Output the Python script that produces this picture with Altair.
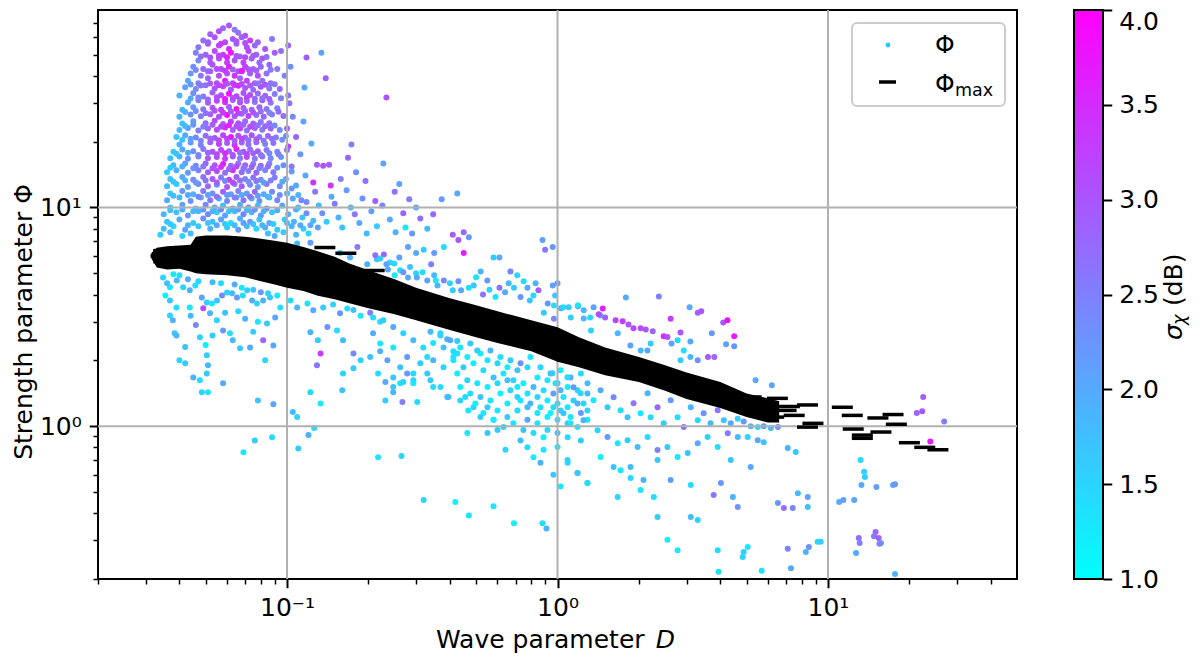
import altair as alt
import pandas as pd

FONT = "DejaVu Sans"

# ---------------- scatter data (D, Phi, sigma_chi), read row by row ----------------
# dense cluster at small D
CL_D = [
    [0.058, 0.061, 0.064],
    [0.052, 0.056, 0.066, 0.070],
    [0.049, 0.054, 0.059, 0.063, 0.068, 0.073, 0.078, 0.088],
    [0.047, 0.051, 0.056, 0.061, 0.065, 0.071, 0.076, 0.083, 0.095],
    [0.046, 0.050, 0.054, 0.058, 0.062, 0.067, 0.072, 0.077, 0.081, 0.090],
    [0.047, 0.052, 0.056, 0.060, 0.064, 0.069, 0.074, 0.079, 0.086],
    [0.045, 0.049, 0.053, 0.057, 0.061, 0.066, 0.070, 0.075, 0.080, 0.092],
    [0.044, 0.048, 0.052, 0.056, 0.060, 0.064, 0.068, 0.073, 0.078, 0.084, 0.098],
    [0.043, 0.047, 0.051, 0.055, 0.059, 0.063, 0.067, 0.071, 0.076, 0.081, 0.087],
    [0.042, 0.046, 0.050, 0.054, 0.058, 0.062, 0.066, 0.070, 0.075, 0.080, 0.086, 0.094],
    [0.040, 0.045, 0.049, 0.053, 0.057, 0.061, 0.065, 0.069, 0.073, 0.078, 0.083, 0.090, 0.101],
    [0.043, 0.047, 0.051, 0.055, 0.059, 0.063, 0.067, 0.071, 0.076, 0.081, 0.087],
    [0.041, 0.045, 0.049, 0.053, 0.057, 0.061, 0.065, 0.069, 0.074, 0.079, 0.084, 0.092],
    [0.040, 0.044, 0.048, 0.052, 0.056, 0.060, 0.064, 0.068, 0.072, 0.077, 0.082, 0.088, 0.097],
    [0.041, 0.045, 0.050, 0.054, 0.058, 0.062, 0.066, 0.070, 0.075, 0.080, 0.086],
    [0.040, 0.043, 0.047, 0.051, 0.055, 0.059, 0.063, 0.067, 0.071, 0.076, 0.081, 0.087, 0.094],
    [0.039, 0.042, 0.046, 0.050, 0.054, 0.058, 0.062, 0.066, 0.070, 0.074, 0.079, 0.085, 0.091, 0.099],
    [0.040, 0.044, 0.048, 0.052, 0.056, 0.060, 0.064, 0.068, 0.072, 0.077, 0.083, 0.089],
    [0.038, 0.041, 0.045, 0.049, 0.053, 0.057, 0.061, 0.065, 0.069, 0.073, 0.078, 0.084, 0.092, 0.100],
    [0.037, 0.040, 0.043, 0.047, 0.051, 0.055, 0.059, 0.063, 0.067, 0.071, 0.076, 0.081, 0.087, 0.095],
    [0.038, 0.042, 0.046, 0.050, 0.054, 0.058, 0.062, 0.066, 0.070, 0.075, 0.080, 0.086, 0.097],
    [0.036, 0.039, 0.043, 0.047, 0.051, 0.055, 0.059, 0.063, 0.068, 0.072, 0.077, 0.083, 0.089, 0.104],
    [0.037, 0.041, 0.045, 0.049, 0.053, 0.057, 0.061, 0.065, 0.070, 0.075, 0.080, 0.090, 0.099],
    [0.036, 0.039, 0.043, 0.047, 0.051, 0.055, 0.060, 0.064, 0.068, 0.073, 0.078, 0.084, 0.094, 0.108],
    [0.037, 0.041, 0.045, 0.049, 0.053, 0.058, 0.062, 0.066, 0.071, 0.076, 0.082, 0.088, 0.100],
    [0.036, 0.040, 0.044, 0.048, 0.052, 0.056, 0.060, 0.065, 0.069, 0.074, 0.079, 0.086, 0.092, 0.105, 0.113],
    [0.037, 0.041, 0.046, 0.050, 0.054, 0.058, 0.063, 0.067, 0.072, 0.078, 0.084, 0.096, 0.110],
    [0.035, 0.039, 0.043, 0.047, 0.051, 0.055, 0.059, 0.064, 0.069, 0.074, 0.080, 0.088, 0.101, 0.118],
    [0.036, 0.040, 0.045, 0.049, 0.053, 0.057, 0.062, 0.067, 0.073, 0.079, 0.086, 0.098, 0.106, 0.125],
    [0.035, 0.038, 0.042, 0.047, 0.052, 0.060, 0.066, 0.071, 0.077, 0.083, 0.092, 0.104, 0.115, 0.130],
    [0.034, 0.037, 0.041, 0.044, 0.085, 0.090, 0.097, 0.108, 0.120],
]
CL_P = [
    [66, 68, 65],
    [62, 64, 63, 61],
    [58, 60, 57, 59, 60, 58, 57, 59],
    [54, 56, 55, 53, 56, 54, 55, 53, 52],
    [51, 50, 52, 50, 51, 49, 52, 50, 48, 51],
    [47, 46, 48, 46, 47, 46, 48, 46, 45],
    [44, 43, 45, 43, 44, 42, 44, 43, 44, 43],
    [41, 40, 42, 40, 41, 40, 42, 41, 40, 41, 40],
    [38, 37, 39, 37, 38, 37, 39, 38, 37, 38, 37],
    [35.5, 34.8, 36.2, 35, 35.8, 34.6, 36, 35.2, 34.5, 35.7, 35, 34.8],
    [32.5, 33.3, 32.2, 33.6, 32.6, 33.1, 32.3, 33.4, 32.7, 33.2, 32.4, 33, 32.5],
    [30.2, 30.9, 30.1, 30.8, 30.3, 31, 30.2, 30.7, 30.4, 30.9, 30.1],
    [28, 28.7, 28.1, 28.6, 28, 28.8, 28.2, 28.5, 28, 28.7, 28.2, 28.4],
    [26, 26.6, 26.1, 26.7, 26, 26.5, 26.1, 26.8, 26.2, 26.5, 26, 26.6, 26.2],
    [24.2, 24.8, 24.3, 24.9, 24.1, 24.7, 24.3, 24.8, 24.2, 24.6, 24.3],
    [22.6, 23.1, 22.5, 23, 22.7, 23.2, 22.6, 23, 22.5, 23.1, 22.7, 23, 22.6],
    [21, 21.4, 20.9, 21.3, 20.8, 21.4, 21, 21.3, 20.9, 21.4, 21, 21.2, 20.9, 21.2],
    [19.4, 19.8, 19.3, 19.9, 19.5, 19.7, 19.3, 19.8, 19.4, 19.9, 19.5, 19.7],
    [18, 18.4, 18.1, 18.5, 18, 18.3, 18.1, 18.5, 18, 18.4, 18.1, 18.3, 18, 18.3],
    [16.8, 17.1, 16.7, 17.1, 16.8, 17, 16.7, 17.1, 16.8, 17, 16.7, 17.1, 16.8, 17],
    [15.6, 15.9, 15.5, 15.9, 15.6, 15.8, 15.5, 15.9, 15.6, 15.8, 15.5, 15.9, 15.6],
    [14.5, 14.8, 14.4, 14.8, 14.5, 14.7, 14.4, 14.8, 14.5, 14.7, 14.4, 14.8, 14.5, 14.6],
    [13.5, 13.8, 13.4, 13.8, 13.5, 13.7, 13.4, 13.8, 13.5, 13.7, 13.4, 13.7, 13.5],
    [12.5, 12.8, 12.4, 12.8, 12.5, 12.7, 12.4, 12.8, 12.5, 12.7, 12.4, 12.8, 12.5, 12.6],
    [11.6, 11.9, 11.5, 11.9, 11.6, 11.8, 11.5, 11.9, 11.6, 11.8, 11.5, 11.8, 11.6],
    [10.8, 11.1, 10.7, 11.1, 10.8, 11, 10.7, 11.1, 10.8, 11, 10.7, 11.1, 10.8, 11, 10.8],
    [10, 10.3, 9.9, 10.3, 10, 10.2, 9.9, 10.3, 10, 10.2, 9.9, 10.2, 10],
    [9.3, 9.5, 9.2, 9.6, 9.3, 9.5, 9.2, 9.6, 9.3, 9.5, 9.2, 9.5, 9.3, 9.4],
    [8.6, 8.8, 8.5, 8.9, 8.6, 8.8, 8.5, 8.9, 8.6, 8.8, 8.5, 8.8, 8.6, 8.7],
    [8.0, 8.2, 7.9, 8.2, 8.0, 8.1, 7.9, 8.2, 8.0, 8.1, 7.9, 8.2, 8.0, 8.1],
    [7.5, 7.7, 7.4, 7.6, 7.6, 7.4, 7.7, 7.5, 7.6],
]
CL_S = [
    [2.8, 3.0, 2.6],
    [2.9, 3.1, 2.7, 3.0],
    [2.7, 3.0, 3.2, 3.0, 2.9, 3.3, 2.8, 2.6],
    [2.6, 3.0, 3.2, 3.5, 2.9, 3.1, 2.8, 3.0, 2.7],
    [2.5, 2.9, 3.1, 3.3, 3.8, 2.9, 3.2, 2.8, 3.0, 2.9],
    [2.4, 2.9, 3.1, 3.3, 3.0, 3.2, 2.9, 2.7, 2.8],
    [2.3, 2.8, 3.0, 3.2, 3.6, 3.0, 3.3, 2.9, 2.8, 2.6],
    [2.2, 2.6, 2.9, 3.1, 3.0, 3.4, 3.1, 2.9, 3.1, 2.7, 2.5],
    [2.0, 2.5, 2.8, 3.1, 3.7, 3.1, 2.9, 3.3, 2.9, 2.7, 2.7],
    [2.1, 2.4, 2.7, 3.0, 3.3, 3.0, 3.6, 3.0, 2.8, 3.0, 2.6, 2.8],
    [1.9, 2.3, 2.6, 2.9, 3.1, 3.8, 3.2, 3.0, 3.1, 2.7, 2.9, 2.5, 2.6],
    [2.0, 2.5, 2.9, 3.2, 3.4, 2.9, 3.1, 2.9, 2.6, 3.0, 2.6],
    [1.8, 2.2, 2.6, 3.0, 3.3, 3.0, 3.7, 2.9, 2.8, 2.9, 2.6, 2.4],
    [1.9, 2.3, 2.5, 2.9, 3.1, 3.8, 3.0, 2.9, 3.2, 2.7, 2.8, 2.5, 2.7],
    [1.7, 2.1, 2.7, 3.1, 2.9, 3.3, 3.0, 2.8, 2.9, 2.6, 2.7],
    [1.8, 2.2, 2.5, 2.8, 3.1, 3.5, 2.9, 3.2, 2.7, 2.9, 2.6, 2.8, 2.4],
    [1.7, 2.0, 2.4, 2.7, 3.0, 3.2, 3.8, 3.0, 2.8, 3.0, 2.7, 2.8, 2.5, 2.3],
    [1.9, 2.2, 2.5, 2.9, 3.2, 2.9, 3.4, 2.9, 2.7, 2.8, 2.5, 2.7],
    [1.6, 2.0, 2.3, 2.6, 3.0, 3.2, 2.9, 3.6, 3.0, 2.7, 2.9, 2.6, 2.4, 2.7],
    [1.7, 1.9, 2.3, 2.5, 2.9, 3.1, 3.3, 2.9, 2.6, 3.1, 2.6, 2.7, 2.4, 2.2],
    [1.8, 2.1, 2.4, 2.8, 3.0, 3.7, 2.9, 2.7, 2.9, 2.6, 2.8, 2.5, 2.3],
    [1.6, 1.9, 2.2, 2.5, 2.9, 3.2, 2.7, 3.4, 2.8, 2.5, 2.8, 2.4, 2.6, 2.2],
    [1.7, 2.0, 2.4, 2.7, 3.0, 2.6, 3.3, 2.9, 2.5, 2.7, 2.3, 2.5, 2.1],
    [1.8, 1.6, 2.1, 2.4, 2.8, 2.3, 3.0, 2.6, 2.9, 2.4, 2.2, 2.6, 2.3, 2.0],
    [1.7, 2.2, 1.9, 2.6, 2.3, 2.9, 2.1, 2.5, 2.2, 2.8, 2.0, 2.4, 1.9],
    [2.0, 1.8, 2.3, 2.1, 2.6, 1.9, 2.4, 2.2, 2.7, 2.0, 2.3, 1.8, 2.5, 2.1, 2.4],
    [1.6, 2.1, 1.8, 2.4, 2.0, 1.7, 2.3, 1.9, 2.2, 1.8, 2.4, 2.0, 1.7],
    [1.9, 1.7, 2.2, 1.9, 2.4, 1.6, 2.1, 1.8, 2.5, 1.9, 2.2, 1.7, 2.0, 2.3],
    [1.7, 2.0, 1.6, 2.3, 1.8, 2.1, 1.5, 1.9, 2.2, 1.7, 2.0, 1.6, 1.9, 1.8],
    [1.8, 1.5, 2.1, 1.7, 1.9, 1.6, 2.2, 1.8, 1.5, 2.0, 1.7, 1.9, 1.6, 2.1],
    [1.6, 1.9, 1.5, 1.8, 1.7, 2.0, 1.6, 1.9, 1.5],
]

# in-between points of the same cluster
CM_D = [
    [0.051, 0.057, 0.065, 0.070],
    [0.048, 0.052, 0.056, 0.060, 0.065, 0.070, 0.075, 0.084],
    [0.046, 0.051, 0.055, 0.059, 0.063, 0.068, 0.072, 0.077, 0.087],
    [0.044, 0.048, 0.052, 0.056, 0.060, 0.064, 0.068, 0.073, 0.078, 0.083, 0.090],
    [0.044, 0.047, 0.051, 0.055, 0.059, 0.063, 0.067, 0.071, 0.076, 0.081, 0.086, 0.095],
    [0.042, 0.046, 0.050, 0.054, 0.058, 0.062, 0.066, 0.070, 0.075, 0.080, 0.086, 0.093],
    [0.042, 0.045, 0.049, 0.053, 0.057, 0.061, 0.065, 0.069, 0.073, 0.078, 0.083, 0.090],
    [0.041, 0.044, 0.048, 0.052, 0.056, 0.060, 0.064, 0.068, 0.072, 0.077, 0.082, 0.088, 0.096],
    [0.039, 0.043, 0.047, 0.051, 0.055, 0.059, 0.063, 0.067, 0.071, 0.075, 0.080, 0.086, 0.093],
    [0.037, 0.041, 0.045, 0.049, 0.053, 0.057, 0.061, 0.065, 0.069, 0.074, 0.079, 0.085, 0.092],
    [0.038, 0.042, 0.046, 0.050, 0.055, 0.059, 0.063, 0.067, 0.072, 0.077, 0.082, 0.087, 0.096],
    [0.038, 0.043, 0.047, 0.051, 0.055, 0.060, 0.064, 0.068, 0.073, 0.078, 0.085, 0.094],
    [0.037, 0.041, 0.045, 0.049, 0.053, 0.057, 0.061, 0.066, 0.071, 0.076, 0.082, 0.092],
    [0.037, 0.043, 0.051, 0.055, 0.059, 0.064, 0.069, 0.075, 0.081, 0.089, 0.100, 0.112],
]
CM_P = [
    [57, 56, 57.5, 56.5],
    [49, 48.5, 49.5, 48.7, 49.3, 48.6, 49.4, 48.8],
    [42.5, 42, 43, 42.2, 42.8, 42.1, 42.9, 42.3, 42.6],
    [36.5, 36.1, 36.9, 36.2, 36.8, 36.3, 36.7, 36.1, 36.9, 36.4, 36.6],
    [31.5, 31.8, 31.2, 31.9, 31.3, 31.7, 31.2, 31.8, 31.4, 31.6, 31.3, 31.6],
    [27.3, 27.6, 27.0, 27.7, 27.1, 27.5, 27.0, 27.6, 27.2, 27.5, 27.1, 27.4],
    [23.6, 23.9, 23.4, 23.9, 23.4, 23.8, 23.5, 23.9, 23.4, 23.8, 23.5, 23.7],
    [20.4, 20.6, 20.2, 20.7, 20.3, 20.6, 20.2, 20.6, 20.3, 20.5, 20.2, 20.6, 20.4],
    [17.6, 17.8, 17.4, 17.8, 17.5, 17.7, 17.4, 17.8, 17.5, 17.7, 17.4, 17.7, 17.5],
    [15.2, 15.4, 15.1, 15.4, 15.1, 15.3, 15.0, 15.4, 15.1, 15.3, 15.1, 15.4, 15.2],
    [13.1, 13.3, 13.0, 13.3, 13.0, 13.2, 13.0, 13.3, 13.1, 13.2, 13.0, 13.3, 13.1],
    [11.3, 11.4, 11.2, 11.4, 11.2, 11.4, 11.1, 11.4, 11.2, 11.3, 11.2, 11.4],
    [9.7, 9.8, 9.6, 9.8, 9.6, 9.8, 9.6, 9.8, 9.7, 9.8, 9.6, 9.7],
    [8.4, 8.3, 8.5, 8.3, 8.4, 8.3, 8.5, 8.4, 8.3, 8.4, 8.5, 8.3],
]
CM_S = [
    [2.9, 3.3, 3.0, 3.1],
    [2.7, 3.0, 3.2, 3.6, 3.0, 3.2, 2.9, 2.7],
    [2.4, 2.8, 3.1, 3.3, 2.9, 3.8, 3.0, 2.9, 2.6],
    [2.2, 2.6, 2.9, 3.2, 3.0, 3.4, 3.1, 2.9, 2.7, 3.0, 2.6],
    [2.0, 2.4, 2.8, 3.1, 3.7, 3.1, 2.9, 3.2, 2.8, 2.7, 2.9, 2.5],
    [1.9, 2.3, 2.7, 3.0, 3.3, 2.9, 3.2, 2.8, 3.0, 2.7, 2.5, 2.8],
    [1.8, 2.2, 2.5, 2.9, 3.2, 3.6, 3.0, 2.8, 3.1, 2.7, 2.8, 2.4],
    [1.7, 2.1, 2.4, 2.8, 3.1, 3.3, 2.9, 3.2, 2.7, 2.9, 2.6, 2.7, 2.3],
    [1.7, 2.0, 2.4, 2.8, 3.1, 3.5, 3.0, 2.7, 3.2, 2.9, 2.6, 2.4, 2.5],
    [1.6, 1.9, 2.3, 2.6, 3.0, 3.4, 2.8, 3.1, 2.6, 2.9, 2.5, 2.7, 2.3],
    [1.7, 1.9, 2.2, 2.6, 2.9, 2.4, 3.1, 2.7, 2.3, 2.6, 2.2, 2.5, 2.0],
    [1.8, 2.0, 2.4, 2.1, 2.7, 2.2, 2.5, 2.0, 2.6, 2.2, 1.9, 2.3],
    [1.7, 2.0, 1.8, 2.2, 1.9, 2.4, 1.7, 2.1, 1.8, 2.3, 1.9, 2.0],
    [1.6, 1.9, 1.7, 2.0, 1.6, 1.8, 2.1, 1.7, 1.9, 1.6, 1.8, 2.0],
]

# points to the right of the cluster
RB_D = [
    [0.118, 0.134, 0.139, 0.233, 0.116, 0.115, 0.123, 0.173, 0.168, 0.227, 0.212, 0.283],
    [0.373, 0.426, 0.269, 0.311, 0.347, 0.129, 0.136, 0.143, 0.125, 0.101, 0.103],
    [0.104, 0.110, 0.118, 0.108, 0.114, 0.122, 0.127, 0.131, 0.135, 0.140, 0.146, 0.150],
    [0.155, 0.160, 0.166, 0.172, 0.178, 0.185, 0.190, 0.197, 0.205, 0.215, 0.225, 0.240],
    [0.252, 0.195, 0.158, 0.145, 0.250, 0.260, 0.180, 0.300, 0.330, 0.290],
    [0.102, 0.105, 0.108, 0.112, 0.104, 0.117, 0.101, 0.100],
]
RB_P = [
    [48.5, 51, 39, 31.8, 35.4, 24.7, 19.6, 19.4, 16.9, 15.9, 10.7, 10.9],
    [10.9, 11.6, 9.4, 8.9, 9.3, 15.7, 15.5, 15.7, 13.0, 55, 44],
    [12.2, 11.4, 10.6, 9.8, 9.0, 8.3, 11.8, 10.2, 9.4, 8.6, 11.2, 10.4],
    [9.0, 8.1, 12.0, 10.0, 9.3, 8.5, 11.0, 7.6, 9.6, 8.2, 10.2, 8.8],
    [7.7, 13.2, 13.5, 12.6, 11.8, 12.8, 14.5, 10.0, 8.0, 7.6],
    [30, 26, 21, 17.5, 15.4, 14.0, 19.0, 23],
]
RB_S = [
    [2.9, 2.1, 2.9, 3.0, 2.0, 2.1, 2.0, 2.4, 2.8, 2.1, 2.9, 2.6],
    [2.2, 2.0, 2.8, 2.7, 2.8, 2.9, 3.0, 2.9, 3.4, 2.8, 2.3],
    [2.2, 1.9, 2.4, 2.0, 1.7, 2.1, 2.6, 1.8, 2.3, 1.6, 2.0, 2.5],
    [1.9, 1.7, 2.2, 1.8, 2.6, 2.0, 2.3, 1.8, 2.1, 1.6, 2.4, 2.0],
    [1.9, 2.7, 2.5, 3.4, 2.7, 2.1, 2.3, 2.0, 1.8, 2.2],
    [2.7, 2.4, 2.8, 2.2, 2.6, 2.0, 3.3, 2.9],
]

# points above the Phi_max band
UP_D = [
    [0.274, 0.41, 0.45, 0.43, 0.47, 0.88, 0.90, 0.96, 0.28, 0.30],
    [0.32, 0.35, 0.38, 0.45, 0.26, 0.24, 0.228, 0.215, 0.236, 0.262],
    [0.28, 0.30, 0.33, 0.355, 0.38, 0.41, 0.44, 0.47, 0.52, 0.55],
    [0.58, 0.61, 0.67, 0.71, 0.61, 0.66, 0.53, 0.774, 0.815, 0.85],
    [0.79, 0.92, 0.97, 1.03, 1.10, 1.19, 1.25, 1.36, 1.32, 1.44],
    [0.89, 0.97, 0.109, 0.122, 0.157, 0.182, 0.171, 0.198, 0.212, 0.221],
    [0.233, 0.249, 0.269, 0.285, 0.302, 0.317, 0.341, 0.35, 0.25, 0.36],
    [0.40, 0.43, 0.49, 0.50, 0.56, 0.64, 0.69, 0.73, 0.75, 0.83],
    [0.59, 0.96, 1.0, 0.98, 1.79, 2.37, 3.08, 3.3, 3.4, 2.62],
    [1.42, 1.47, 1.5, 1.64, 1.74, 1.83, 1.91, 2.03, 2.12, 2.25],
    [2.47, 2.55, 2.85, 4.1, 4.25, 4.5, 3.72, 4.2, 4.5, 3.8],
    [3.6, 3.1, 2.78, 2.64, 2.93, 3.1, 3.3, 2.85, 1.05, 1.12],
    [1.19, 1.25, 1.33, 1.67, 1.86, 2.03, 2.15, 2.21, 5.4, 6.2],
    [22.5, 22.3, 21.3, 26.9, 23.9],
]
UP_P = [
    [8.1, 7.5, 7.7, 7.1, 7.3, 7.1, 6.4, 6.6, 6.6, 6.2],
    [6.4, 6.2, 6.6, 6.2, 5.9, 5.6, 6.1, 5.8, 5.2, 5.16],
    [4.79, 5.0, 4.64, 4.64, 4.64, 4.18, 4.18, 4.3, 5.1, 4.64],
    [5.9, 5.9, 5.1, 4.9, 4.3, 4.5, 4.0, 4.3, 3.96, 4.18],
    [3.76, 3.64, 3.56, 3.46, 3.5, 3.53, 3.39, 3.5, 3.14, 3.21],
    [3.3, 3.1, 6.85, 6.9, 6.2, 6.6, 5.9, 5.5, 6.05, 5.85],
    [5.5, 5.55, 5.06, 5.35, 4.79, 5.06, 5.5, 4.9, 4.9, 4.4],
    [4.5, 4.6, 4.4, 4.8, 4.2, 4.1, 4.3, 3.9, 4.6, 4.5],
    [3.9, 4.4, 4.5, 3.96, 3.88, 3.92, 3.5, 3.3, 3.35, 3.1],
    [3.25, 3.45, 3.14, 3.05, 3.02, 2.92, 2.8, 2.8, 2.77, 2.72],
    [2.58, 2.56, 2.68, 2.98, 3.05, 2.58, 2.66, 2.37, 2.32, 2.07],
    [2.07, 2.44, 2.47, 2.39, 2.22, 2.07, 2.0, 2.0, 3.5, 3.14],
    [3.57, 3.11, 2.74, 2.66, 2.34, 2.22, 2.22, 2.39, 1.62, 1.54],
    [1.36, 1.17, 1.15, 1.05, 0.85],
]
UP_S = [
    [1.3, 2.9, 2.8, 3.0, 2.2, 2.1, 2.6, 2.2, 2.1, 2.0],
    [1.6, 2.2, 1.4, 3.7, 2.1, 1.5, 2.8, 1.7, 2.0, 1.4],
    [2.0, 1.5, 2.1, 1.3, 2.4, 1.6, 2.0, 1.4, 1.9, 2.2],
    [1.6, 2.0, 2.4, 1.5, 2.7, 1.8, 2.6, 2.0, 1.5, 2.9],
    [1.7, 2.2, 1.4, 2.0, 1.6, 2.3, 1.8, 2.1, 1.5, 1.9],
    [1.6, 2.4, 1.8, 2.2, 1.5, 2.6, 1.9, 1.9, 2.7, 1.6],
    [2.1, 1.5, 2.3, 1.7, 2.0, 1.4, 2.5, 1.8, 1.3, 1.9],
    [1.5, 2.3, 1.7, 1.3, 1.5, 2.0, 1.6, 2.2, 1.4, 1.9],
    [1.3, 2.1, 2.2, 1.7, 2.0, 2.5, 2.0, 2.9, 3.0, 3.3],
    [3.1, 3.6, 2.9, 3.2, 3.3, 3.0, 3.2, 3.1, 3.0, 2.8],
    [3.5, 3.0, 3.0, 3.0, 3.8, 3.7, 2.2, 2.1, 2.2, 2.8],
    [3.0, 2.0, 1.5, 2.1, 1.4, 1.8, 2.3, 1.6, 1.4, 1.6],
    [1.3, 1.9, 1.5, 1.9, 2.1, 1.8, 2.0, 1.6, 2.0, 2.1],
    [2.9, 3.0, 2.8, 2.5, 3.7],
]

# points below the band, small D
LO_D = [
    [0.0348, 0.0369, 0.0391, 0.0355, 0.0369, 0.039, 0.0369, 0.0378, 0.0384, 0.039],
    [0.040, 0.0437, 0.042, 0.0413, 0.0437, 0.0458, 0.0484, 0.0505, 0.0528, 0.0551],
    [0.0575, 0.0600, 0.0626, 0.0653, 0.0686, 0.0712, 0.0743, 0.0774, 0.0816, 0.0865],
    [0.0920, 0.0944, 0.0904, 0.0843, 0.0816, 0.089, 0.083, 0.073, 0.067, 0.063],
    [0.0615, 0.058, 0.055, 0.0519, 0.049, 0.0476, 0.0505, 0.0476, 0.0484, 0.051],
    [0.045, 0.058, 0.0505, 0.051, 0.078, 0.089, 0.036, 0.038, 0.043, 0.047],
    [0.053, 0.057, 0.064, 0.068, 0.075, 0.080, 0.085, 0.044, 0.046, 0.053],
    [0.059, 0.066, 0.07, 0.078, 0.075, 0.05, 0.042, 0.040, 0.103, 0.109],
    [0.119, 0.125, 0.136, 0.148, 0.157, 0.167, 0.176, 0.187, 0.203, 0.221],
    [0.122, 0.130, 0.141, 0.153, 0.161, 0.176, 0.187, 0.203, 0.208, 0.221],
    [0.235, 0.133, 0.129, 0.161, 0.160, 0.122, 0.133, 0.105, 0.109, 0.110],
    [0.120, 0.126, 0.176, 0.217, 0.231, 0.247, 0.262, 0.278, 0.293, 0.247],
    [0.231, 0.267, 0.303, 0.069, 0.076, 0.088, 0.217, 0.265, 0.419, 0.58],
    [0.69, 0.88, 0.91, 0.208, 0.227, 0.247, 0.269, 0.293, 0.319, 0.221],
    [0.247, 0.278, 0.311, 0.330, 0.262, 0.293, 0.339, 0.369, 0.391, 0.426],
    [0.347, 0.379, 0.412, 0.347, 0.379, 0.412, 0.339, 0.369, 0.395, 0.437],
    [0.468, 0.519, 0.58, 0.32, 0.47],
]
LO_P = [
    [4.79, 4.32, 4.64, 3.96, 3.76, 3.49, 3.21, 3.05, 2.66, 2.60],
    [4.9, 3.49, 1.94, 4.32, 4.18, 4.40, 3.88, 3.68, 3.64, 3.76],
    [3.96, 4.09, 4.05, 3.88, 3.96, 4.18, 3.76, 3.64, 3.76, 3.88],
    [3.96, 3.49, 3.14, 2.95, 2.47, 2.34, 2.0, 2.29, 2.27, 2.47],
    [2.66, 2.74, 3.05, 3.28, 3.46, 2.55, 2.11, 1.62, 1.43, 1.43],
    [1.67, 1.57, 1.74, 1.90, 1.31, 1.26, 4.5, 4.95, 4.7, 4.6],
    [4.55, 4.5, 4.45, 4.3, 4.2, 4.1, 4.05, 3.2, 2.9, 2.6],
    [3.3, 3.35, 3.1, 3.0, 2.7, 2.35, 2.3, 2.0, 3.76, 3.49],
    [3.64, 3.39, 3.49, 3.6, 3.28, 3.45, 3.4, 3.2, 3.3, 3.0],
    [2.69, 2.47, 2.84, 2.74, 2.47, 2.15, 2.0, 2.07, 2.66, 2.39],
    [2.0, 2.15, 1.90, 1.74, 1.46, 1.43, 1.27, 1.16, 1.10, 0.79],
    [0.91, 0.98, 1.84, 1.74, 1.59, 1.67, 1.57, 1.74, 1.62, 1.43],
    [1.31, 1.29, 1.29, 0.76, 0.86, 0.89, 0.72, 0.73, 0.45, 0.43],
    [0.36, 0.36, 0.34, 3.14, 3.05, 2.84, 2.66, 2.47, 2.29, 2.2],
    [2.29, 2.07, 1.94, 2.07, 1.86, 1.74, 2.7, 2.6, 2.5, 2.45],
    [2.4, 2.29, 2.2, 2.0, 1.86, 2.07, 1.62, 1.51, 1.36, 1.31],
    [1.18, 1.10, 1.07, 0.46, 0.39],
]
LO_S = [
    [1.5, 1.3, 1.8, 1.2, 1.6, 1.4, 1.5, 1.9, 1.7, 1.8],
    [1.4, 1.3, 1.6, 1.5, 1.9, 1.4, 2.1, 1.6, 1.3, 1.7],
    [2.4, 1.5, 1.8, 2.2, 1.4, 1.6, 2.0, 1.5, 1.9, 1.7],
    [1.3, 1.4, 2.0, 1.6, 2.8, 2.0, 1.5, 2.0, 1.6, 1.8],
    [1.4, 2.2, 1.5, 1.9, 3.1, 1.5, 1.6, 1.4, 1.5, 1.3],
    [1.9, 2.0, 1.6, 1.8, 1.7, 2.1, 1.7, 1.3, 2.0, 1.5],
    [1.8, 1.4, 2.0, 1.3, 1.7, 2.2, 1.5, 1.8, 2.4, 1.6],
    [1.7, 1.5, 1.9, 1.3, 1.6, 1.2, 1.7, 1.5, 1.4, 1.8],
    [1.3, 2.0, 1.6, 1.5, 2.2, 1.4, 1.7, 1.3, 2.5, 1.5],
    [1.9, 1.6, 2.3, 1.4, 1.8, 2.4, 1.5, 1.7, 2.0, 1.3],
    [2.1, 3.3, 2.6, 1.5, 1.7, 1.4, 1.3, 1.8, 1.5, 1.6],
    [1.9, 1.4, 1.6, 1.4, 2.0, 1.7, 1.3, 2.2, 1.5, 1.9],
    [1.6, 2.5, 1.4, 1.3, 1.6, 1.4, 1.3, 1.5, 1.2, 1.3],
    [1.2, 1.4, 1.9, 1.4, 1.6, 2.0, 1.5, 1.8, 1.4, 1.9],
    [1.3, 2.2, 1.6, 1.4, 1.7, 1.5, 1.8, 1.5, 2.0, 1.6],
    [1.3, 1.7, 1.4, 1.9, 1.5, 1.3, 1.6, 1.4, 1.8, 1.5],
    [1.3, 1.6, 1.4, 1.5, 1.3],
]

# dense cyan group below the band around D ~ 0.4 - 1.3
MID_D = [
    [0.369, 0.401, 0.437, 0.476, 0.519, 0.565, 0.615, 0.670, 0.730, 0.794, 0.865, 0.942, 1.026, 1.117, 1.22],
    [0.412, 0.449, 0.489, 0.532, 0.580, 0.631, 0.687, 0.748, 0.815, 0.888, 0.966, 1.052, 1.146, 1.248],
    [0.437, 0.476, 0.519, 0.565, 0.615, 0.670, 0.730, 0.794, 0.865, 0.942, 1.026, 1.117, 1.22],
    [0.489, 0.532, 0.580, 0.653, 0.711, 0.774, 0.843, 0.918, 1.0, 1.09, 1.22],
    [0.464, 0.551, 0.642, 0.774, 0.815, 0.865, 0.966, 1.026, 1.09, 1.186, 1.29, 0.730, 0.888],
    [0.330, 0.347, 0.391, 0.293, 0.269, 0.247],
    [0.426, 0.464, 0.505, 0.551, 0.600, 0.653, 0.711, 0.774, 0.843, 0.918, 1.0, 1.09, 1.186, 1.29],
    [0.426, 0.464, 0.505, 0.551, 0.600, 0.653, 0.711, 0.774, 0.843, 0.918, 1.0, 1.09, 1.186, 1.29],
    [0.456, 0.497, 0.551, 0.600, 0.653, 0.711, 0.774, 0.843, 0.918, 1.0, 1.09, 1.186, 1.29],
    [0.631, 0.687, 0.748, 0.815, 0.888, 0.600],
]
MID_P = [
    [2.66, 2.47, 2.29, 2.39, 2.15, 2.22, 2.07, 2.0, 1.94, 2.07, 1.86, 1.74, 1.80, 1.67, 1.74],
    [2.0, 1.86, 1.94, 1.80, 1.67, 1.74, 1.62, 1.57, 1.51, 1.46, 1.41, 1.36, 1.31, 1.27],
    [1.51, 1.41, 1.36, 1.31, 1.41, 1.46, 1.31, 1.27, 1.22, 1.15, 1.18, 1.10, 1.15],
    [1.22, 1.15, 1.07, 1.10, 1.18, 1.07, 1.03, 0.96, 0.93, 0.89, 0.86],
    [0.93, 0.93, 0.78, 0.80, 0.72, 0.68, 0.60, 0.53, 0.68, 0.61, 0.55, 0.86, 0.78],
    [1.74, 1.51, 1.36, 1.57, 1.59, 1.51],
    [2.15, 2.07, 2.22, 2.0, 1.94, 1.86, 1.80, 1.86, 1.67, 1.62, 1.57, 1.51, 1.46, 1.41],
    [1.74, 1.62, 1.57, 1.51, 1.57, 1.62, 1.51, 1.41, 1.36, 1.31, 1.27, 1.22, 1.27, 1.18],
    [1.36, 1.27, 1.22, 1.18, 1.27, 1.36, 1.22, 1.15, 1.10, 1.07, 1.03, 0.99, 1.07],
    [0.99, 1.03, 0.96, 0.93, 0.89, 0.96],
]
MID_S = [
    [1.5, 2.0, 1.3, 1.7, 1.2, 1.9, 1.4, 1.6, 2.3, 1.3, 1.5, 1.8, 1.2, 2.0, 1.4],
    [1.3, 1.6, 1.2, 1.4, 1.7, 1.3, 1.5, 1.2, 1.8, 1.4, 2.1, 1.3, 1.6, 1.5],
    [1.2, 1.4, 1.7, 1.3, 1.2, 1.5, 1.3, 1.9, 1.4, 1.2, 1.6, 1.3, 2.2],
    [1.5, 1.3, 1.2, 1.6, 1.4, 2.0, 1.3, 1.5, 1.8, 1.4, 1.6],
    [1.3, 1.7, 1.5, 1.4, 1.2, 1.9, 1.6, 1.3, 1.5, 2.1, 1.4, 1.8, 1.3],
    [1.6, 1.4, 1.8, 1.3, 1.5, 1.7],
    [1.4, 1.2, 1.6, 1.3, 1.5, 1.2, 1.7, 1.4, 1.2, 1.3, 1.6, 1.2, 1.5, 1.8],
    [1.2, 1.5, 1.3, 1.2, 1.4, 1.7, 1.2, 1.3, 1.5, 1.2, 1.4, 1.3, 1.9, 1.5],
    [1.4, 1.2, 1.6, 1.3, 1.2, 1.5, 1.8, 1.3, 1.2, 1.4, 1.6, 1.3, 1.2],
    [1.5, 1.3, 1.7, 1.4, 1.2, 1.6],
]

# points below the band, D ~ 1 - 20
RT_D = [
    [0.958, 0.983, 1.026, 1.089, 1.146, 1.217, 1.291, 1.359, 1.443, 1.531, 1.612, 1.711],
    [1.816, 1.911, 2.028, 2.153, 2.21, 2.344, 2.47, 2.62, 2.78, 2.93, 3.11, 3.30],
    [3.47, 3.68, 3.91, 4.12, 4.37, 4.64, 4.88, 5.18, 5.50, 5.79, 6.15, 6.53],
    [0.966, 1.052, 1.117, 1.248, 1.406, 1.531, 1.669, 1.816, 1.978, 2.153, 2.344, 2.55],
    [2.78, 3.03, 3.30, 3.59, 3.91, 4.26, 4.64, 5.05, 5.50, 5.79],
    [1.0, 1.089, 1.186, 1.291, 1.443, 1.612, 1.711, 1.863, 2.08, 2.27, 2.344, 2.55],
    [2.78, 3.11, 3.30, 3.78, 3.91, 4.45, 4.64, 4.88, 5.05, 4.84, 5.18, 4.37],
    [4.02, 3.11, 2.62, 2.344, 2.028, 1.863, 1.669],
    [7.10, 7.60, 6.53, 6.87, 7.41, 7.74, 8.42, 8.42, 9.16, 8.50, 8.28, 7.10, 7.30, 5.69, 3.94, 9.4],
    [13.2, 13.6, 13.7, 13.3, 15.1, 17.4, 17.7, 11.0, 11.4, 12.5],
    [13.0, 13.1, 12.7, 15.0, 14.8, 15.4, 15.7, 15.5, 17.7],
]
RT_P = [
    [1.745, 1.571, 1.460, 1.674, 1.507, 1.414, 1.571, 1.314, 1.460, 1.221, 1.357, 1.183],
    [1.099, 1.274, 1.146, 1.414, 1.099, 1.221, 1.032, 1.314, 1.099, 0.990, 1.221, 1.065],
    [1.146, 1.032, 1.183, 1.065, 1.032, 1.08, 1.05, 1.0, 0.99, 1.0, 0.98, 0.99],
    [1.221, 1.146, 1.032, 1.065, 0.959, 0.891, 0.836, 0.863, 0.802, 0.891, 0.777, 0.802],
    [0.722, 0.753, 0.836, 0.891, 0.802, 0.929, 0.891, 0.891, 0.863, 0.845],
    [0.802, 0.700, 0.610, 0.549, 0.722, 0.650, 0.629, 0.579, 0.567, 0.474, 0.384, 0.302],
    [0.271, 0.384, 0.372, 0.484, 0.271, 0.474, 0.427, 0.266, 0.280, 0.252, 0.650, 0.700],
    [0.549, 0.538, 0.567, 0.700, 0.510, 0.650, 0.474],
    [0.794, 0.761, 0.445, 0.422, 0.422, 0.494, 0.474, 0.427, 0.296, 0.280, 0.266, 0.275, 0.224, 0.218, 0.216, 0.296],
    [0.700, 0.618, 0.585, 0.538, 0.527, 0.538, 0.543, 0.450, 0.459, 0.459],
    [0.308, 0.292, 0.263, 0.328, 0.314, 0.308, 0.292, 0.290, 0.211],
]
RT_S = [
    [1.6, 1.3, 1.9, 1.4, 2.2, 1.5, 1.8, 1.3, 2.0, 1.6, 2.4, 1.4],
    [1.7, 2.6, 1.3, 1.9, 1.5, 2.8, 1.6, 2.2, 1.4, 2.7, 1.9, 1.5],
    [2.3, 1.8, 2.6, 1.7, 2.0, 1.6, 2.2, 1.9, 1.5, 2.1, 1.8, 2.3],
    [1.4, 1.7, 1.3, 1.9, 1.5, 2.2, 1.3, 1.6, 1.8, 1.4, 2.5, 1.6],
    [1.3, 1.7, 2.0, 1.5, 1.4, 2.6, 1.8, 1.5, 2.0, 1.7],
    [1.3, 1.5, 1.6, 1.4, 1.2, 1.7, 1.3, 1.5, 1.9, 1.4, 1.6, 1.2],
    [1.3, 1.8, 1.5, 2.6, 1.4, 1.9, 2.3, 1.6, 1.3, 1.5, 2.0, 1.7],
    [2.2, 1.4, 2.1, 1.6, 1.3, 1.8, 1.5],
    [1.9, 1.6, 2.2, 2.7, 2.4, 1.8, 2.1, 1.7, 1.5, 2.3, 1.9, 2.5, 2.0, 1.3, 1.4, 1.6],
    [1.4, 1.5, 1.6, 2.0, 2.1, 2.0, 2.2, 2.0, 2.1, 2.1],
    [2.7, 2.5, 2.0, 2.8, 2.6, 2.9, 2.2, 2.4, 1.9],
]

# ---------------- Phi_max (black dashes forming a band) ----------------
BAND_D = [0.0315, 0.033, 0.036, 0.040, 0.044, 0.046, 0.050, 0.060, 0.070, 0.080, 0.090,
          0.100, 0.115, 0.130, 0.150, 0.170, 0.200, 0.250, 0.300, 0.400, 0.500, 0.600,
          0.800, 1.0, 1.2, 1.5, 2.0, 2.5, 3.0, 4.0, 5.0, 6.0, 6.6]
BAND_U = [6.2, 6.55, 6.65, 6.7, 6.75, 7.35, 7.45, 7.45, 7.35, 7.2, 7.05,
          6.9, 6.6, 6.3, 5.95, 5.55, 5.16, 4.7, 4.3, 3.85, 3.57, 3.35,
          3.05, 2.83, 2.55, 2.29, 2.07, 1.9, 1.76, 1.59, 1.41, 1.34, 1.3]
BAND_L = [5.85, 5.32, 5.2, 5.25, 5.1, 5.0, 4.95, 4.9, 4.8, 4.6, 4.45,
          4.3, 4.15, 3.95, 3.8, 3.65, 3.46, 3.25, 3.05, 2.75, 2.55, 2.4,
          2.2, 1.97, 1.86, 1.71, 1.59, 1.45, 1.33, 1.21, 1.10, 1.04, 1.04]
DASH_D = [0.0342, 0.0350, 0.0350, 0.138, 0.165, 0.210, 5.2, 6.5, 7.2, 7.0, 8.4, 8.8, 8.4,
          11.3, 12.3, 15.3, 17.4, 17.9, 12.4, 13.4, 15.7, 13.4, 20.0, 22.8, 25.5, 6.0, 6.3, 7.5]
DASH_P = [6.0, 6.35, 5.65, 6.56, 6.17, 5.15, 1.36, 1.34, 1.23, 1.18, 1.25, 1.03, 0.99,
          1.22, 1.12, 1.09, 1.13, 1.02, 0.97, 0.91, 0.94, 0.88, 0.84, 0.80, 0.78, 1.2, 1.1, 1.12]

# ---------------- axes ticks ----------------
X_MAJOR = [0.1, 1, 10]
X_MINOR = [0.02, 0.03, 0.04, 0.05, 0.06, 0.07, 0.08, 0.09,
           0.2, 0.3, 0.4, 0.5, 0.6, 0.7, 0.8, 0.9,
           2, 3, 4, 5, 6, 7, 8, 9, 20, 30, 40]
Y_MAJOR = [1, 10]
Y_MINOR = [0.2, 0.3, 0.4, 0.5, 0.6, 0.7, 0.8, 0.9,
           2, 3, 4, 5, 6, 7, 8, 9, 20, 30, 40, 50, 60, 70]
CB_TICKS = [1.0, 1.5, 2.0, 2.5, 3.0, 3.5, 4.0]


def collect(Ds, Ps, Ss):
    out = []
    for ds, ps, ss in zip(Ds, Ps, Ss):
        for d, p, s in zip(ds, ps, ss):
            out.append({"D": d, "P": p, "S": s})
    return out


records = []
for grp in [(LO_D, LO_P, LO_S), (MID_D, MID_P, MID_S), (RT_D, RT_P, RT_S),
            (UP_D, UP_P, UP_S), (RB_D, RB_P, RB_S),
            (CL_D, CL_P, CL_S), (CM_D, CM_P, CM_S)]:
    records += collect(*grp)
scatter_df = pd.DataFrame(records)
band_df = pd.DataFrame({"D": BAND_D, "U": BAND_U, "L": BAND_L})
dash_df = pd.DataFrame({"D": DASH_D, "P": DASH_P})
one = pd.DataFrame({"k": [0]})

xs = alt.Scale(type="log", domain=[0.02, 50], nice=False)
ys = alt.Scale(type="log", domain=[0.2, 80], nice=False)
cs = alt.Scale(domain=[1, 4], range=["#00ffff", "#ff00ff"], interpolate="rgb")

x_test = "indexof([0.1, 1, 10], datum.value) >= 0"
y_test = "indexof([1, 10], datum.value) >= 0"

xa = alt.Axis(
    values=sorted(X_MAJOR + X_MINOR), title=None, grid=False, domain=False,
    labelExpr="datum.value === 0.1 ? '10⁻¹' : datum.value === 1 ? '10⁰' : datum.value === 10 ? '10¹' : ''",
    tickSize={"condition": {"test": x_test, "value": 8.75}, "value": 5},
    tickWidth={"condition": {"test": x_test, "value": 2}, "value": 1.5},
    tickColor="black", labelFont=FONT, labelFontSize=25, labelColor="black",
    labelPadding=8, labelOverlap=False, labelFlush=False, labelBound=False,
)
ya = alt.Axis(
    values=sorted(Y_MAJOR + Y_MINOR), title=None, grid=False, domain=False,
    labelExpr="datum.value === 1 ? '10⁰' : datum.value === 10 ? '10¹' : ''",
    tickSize={"condition": {"test": y_test, "value": 8.75}, "value": 5},
    tickWidth={"condition": {"test": y_test, "value": 2}, "value": 1.5},
    tickColor="black", labelFont=FONT, labelFontSize=25, labelColor="black",
    labelPadding=8, labelOverlap=False, labelFlush=False, labelBound=False,
)

X = alt.X("D:Q", scale=xs, axis=xa)

scatter = alt.Chart(scatter_df).mark_circle(size=36, opacity=1).encode(
    x=X, y=alt.Y("P:Q", scale=ys, axis=ya),
    color=alt.Color("S:Q", scale=cs, legend=None),
)
grid_x = alt.Chart(pd.DataFrame({"D": X_MAJOR})).mark_rule(color="#b0b0b0", strokeWidth=2).encode(x=X)
grid_y = alt.Chart(pd.DataFrame({"P": Y_MAJOR})).mark_rule(color="#b0b0b0", strokeWidth=2).encode(
    y=alt.Y("P:Q", scale=ys, axis=ya))
band = alt.Chart(band_df).mark_area(color="black", opacity=1).encode(
    x=X, y=alt.Y("U:Q", scale=ys, axis=ya), y2="L:Q")
dashes = alt.Chart(dash_df).mark_tick(orient="horizontal", color="black", size=21,
                                      thickness=3.5, opacity=1).encode(
    x=X, y=alt.Y("P:Q", scale=ys, axis=ya))

# legend (drawn inside the plot, upper right)
leg_box = alt.Chart(one).mark_rect(fill="white", fillOpacity=0.8, stroke="#cccccc",
                                   strokeWidth=2, cornerRadius=5).encode(
    x=alt.value(754), x2=alt.value(907), y=alt.value(13), y2=alt.value(96))
leg_dot = alt.Chart(one).mark_circle(size=24, color="#2ac8ff", opacity=1).encode(
    x=alt.value(790), y=alt.value(35))
leg_dash = alt.Chart(one).mark_rule(color="black", strokeWidth=3.5).encode(
    x=alt.value(781), x2=alt.value(798), y=alt.value(72))


def label(txt, x, y, size=25, style="normal", angle=0, align="left", baseline="alphabetic"):
    return alt.Chart(one).mark_text(text=txt, font=FONT, fontSize=size, fontStyle=style,
                                    angle=angle, align=align, baseline=baseline,
                                    color="black").encode(x=alt.value(x), y=alt.value(y))


leg_t1 = label("Φ", 837, 43)
leg_t2 = label("Φ", 837, 82)
leg_t3 = label("max", 857, 86, size=17.5)

x_title1 = label("Wave parameter", 338, 638)
x_title2 = label("D", 577, 638, style="italic", align="right")
y_title = label("Strength parameter Φ", -74, 312, angle=270, align="center", baseline="middle")

cb_t1 = label("σ", 1084, 330, style="italic", angle=270)
cb_t2 = label("χ", 1087, 315, size=17.5, style="italic", angle=270)
cb_t3 = label("(dB)", 1084, 296, angle=270)

inner = alt.layer(scatter, grid_x, grid_y, band, dashes, leg_box, leg_dot, leg_dash,
                  leg_t1, leg_t2, leg_t3, x_title1, x_title2, y_title, cb_t1, cb_t2, cb_t3)

cax = alt.Axis(orient="right", offset=86, values=CB_TICKS, format=".1f", title=None,
               grid=False, domain=False, tickSize=8.75, tickWidth=2, tickColor="black",
               labelFont=FONT, labelFontSize=25, labelColor="black", labelPadding=7,
               labelOffset={"condition": {"test": "datum.value >= 3.99", "value": 11}, "value": 0},
               labelOverlap=False, labelFlush=False)
gradient = {"gradient": "linear", "x1": 0, "x2": 0, "y1": 1, "y2": 0,
            "stops": [{"offset": 0, "color": "#00ffff"}, {"offset": 1, "color": "#ff00ff"}]}
cbar = alt.Chart(pd.DataFrame({"lo": [1.0], "hi": [4.0]})).mark_rect(
    fill=gradient, stroke="black", strokeWidth=2).encode(
    x=alt.value(976), x2=alt.value(1005),
    y=alt.Y("lo:Q", scale=alt.Scale(domain=[1, 4], nice=False, zero=False), axis=cax),
    y2="hi:Q")

chart = alt.layer(inner, cbar).resolve_scale(y="independent").properties(
    width=919, height=569,
    autosize=alt.AutoSizeParams(type="none"),
    padding={"left": 90, "top": 2, "right": 175, "bottom": 76},
).configure(font=FONT).configure_view(stroke="black", strokeWidth=2)

chart.save("out.html", embed_options={"renderer": "svg", "actions": False})
